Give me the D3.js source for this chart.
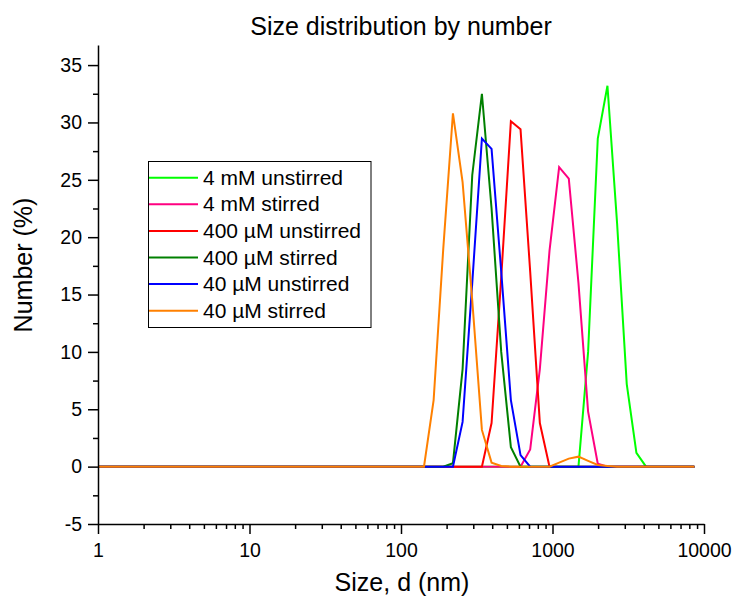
<!DOCTYPE html>
<html>
<head>
<meta charset="utf-8">
<script src="https://cdn.jsdelivr.net/npm/d3@7"></script>
<style>
  body { margin: 0; background: #fff; }
  svg { display: block; font-family: Arial, "Liberation Sans", sans-serif; }
</style>
</head>
<body>
<svg width="734" height="600"></svg>
<script>
// DLS size classes (nm), from just under 1 nm up to the last plotted class
const sizes = [
  0.9649, 1.117, 1.294, 1.499, 1.736, 2.01, 2.328, 2.696, 3.122, 3.615,
  4.187, 4.849, 5.615, 6.503, 7.531, 8.721, 10.1, 11.7, 13.54, 15.69,
  18.17, 21.04, 24.36, 28.21, 32.67, 37.84, 43.82, 50.75, 58.77, 68.06,
  78.82, 91.28, 105.7, 122.4, 141.8, 164.2, 190.1, 220.2, 255, 295.3,
  342, 396.1, 458.7, 531.2, 615.1, 712.4, 825, 955.4, 1106, 1281,
  1484, 1718, 1990, 2305, 2669, 3091, 3580, 4145, 4801, 5560,
  6439, 7456, 8635
];

// Number (%) per size class, one array per sample
const mM4Unstirred = [
  0, 0, 0, 0, 0, 0, 0, 0, 0, 0,
  0, 0, 0, 0, 0, 0, 0, 0, 0, 0,
  0, 0, 0, 0, 0, 0, 0, 0, 0, 0,
  0, 0, 0, 0, 0, 0, 0, 0, 0, 0,
  0, 0, 0, 0, 0, 0, 0, 0, 0, 0,
  0, 10, 28.6, 33.2, 21.2, 7.2, 1.2, 0, 0, 0,
  0, 0, 0
];
const mM4Stirred = [
  0, 0, 0, 0, 0, 0, 0, 0, 0, 0,
  0, 0, 0, 0, 0, 0, 0, 0, 0, 0,
  0, 0, 0, 0, 0, 0, 0, 0, 0, 0,
  0, 0, 0, 0, 0, 0, 0, 0, 0, 0,
  0, 0, 0, 0, 0, 1.5, 8.5, 18.8, 26.1, 25.1,
  16, 4.8, 0.25, 0, 0, 0, 0, 0, 0, 0,
  0, 0, 0
];
const uM400Unstirred = [
  0, 0, 0, 0, 0, 0, 0, 0, 0, 0,
  0, 0, 0, 0, 0, 0, 0, 0, 0, 0,
  0, 0, 0, 0, 0, 0, 0, 0, 0, 0,
  0, 0, 0, 0, 0, 0, 0, 0, 0, 0,
  0, 3.8, 16.5, 30.1, 29.4, 17, 3.8, 0, 0, 0,
  0, 0, 0, 0, 0, 0, 0, 0, 0, 0,
  0, 0, 0
];
const uM400Stirred = [
  0, 0, 0, 0, 0, 0, 0, 0, 0, 0,
  0, 0, 0, 0, 0, 0, 0, 0, 0, 0,
  0, 0, 0, 0, 0, 0, 0, 0, 0, 0,
  0, 0, 0, 0, 0, 0, 0, 0.3, 8.5, 25.4,
  32.5, 22.5, 10, 1.7, 0, 0, 0, 0, 0, 0,
  0, 0, 0, 0, 0, 0, 0, 0, 0, 0,
  0, 0, 0
];
const uM40Unstirred = [
  0, 0, 0, 0, 0, 0, 0, 0, 0, 0,
  0, 0, 0, 0, 0, 0, 0, 0, 0, 0,
  0, 0, 0, 0, 0, 0, 0, 0, 0, 0,
  0, 0, 0, 0, 0, 0, 0, 0, 3.9, 16,
  28.6, 27.7, 17, 5.8, 1.0, 0, 0, 0, 0, 0,
  0, 0, 0, 0, 0, 0, 0, 0, 0, 0,
  0, 0, 0
];
const uM40Stirred = [
  0, 0, 0, 0, 0, 0, 0, 0, 0, 0,
  0, 0, 0, 0, 0, 0, 0, 0, 0, 0,
  0, 0, 0, 0, 0, 0, 0, 0, 0, 0,
  0, 0, 0, 0, 0, 5.8, 19, 30.8, 24.8, 14.5,
  3.2, 0.35, 0.05, 0, 0, 0, 0, 0, 0.35, 0.7,
  0.87, 0.5, 0.15, 0.05, 0, 0, 0, 0, 0, 0,
  0, 0, 0
];

const seriesNames = ['4 mM unstirred', '4 mM stirred', '400 µM unstirred',
  '400 µM stirred', '40 µM unstirred', '40 µM stirred'];
const seriesValues = [mM4Unstirred, mM4Stirred, uM400Unstirred,
  uM400Stirred, uM40Unstirred, uM40Stirred];
const seriesColors = ['#00ff00', '#ff0080', '#ff0000', '#008000', '#0000ff', '#ff8000'];

const xMajorTicks = [1, 10, 100, 1000, 10000];
const yMajorTicks = [-5, 0, 5, 10, 15, 20, 25, 30, 35];

const svg = d3.select('svg');
const plotLeft = 98, plotRight = 704, plotTop = 45, plotBottom = 524;

const x = d3.scaleLog().domain([1, 10000]).range([plotLeft, plotRight]);
const y = d3.scaleLinear().domain([-5, 36.75]).range([plotBottom, plotTop]);

// minor ticks: 2..9 inside each decade, half steps on y
const xMinor = [];
xMajorTicks.slice(0, -1).forEach(d => { for (let k = 2; k < 10; k++) xMinor.push(d * k); });
const yMinor = yMajorTicks.slice(0, -1).map(v => v + 2.5);

// clip so lines stay inside the frame
svg.append('clipPath').attr('id', 'plotClip')
  .append('rect').attr('x', plotLeft).attr('y', plotTop)
  .attr('width', plotRight - plotLeft).attr('height', plotBottom - plotTop);

const line = d3.line()
  .x((d, i) => x(sizes[i]))
  .y(d => y(d));

const plot = svg.append('g').attr('clip-path', 'url(#plotClip)');
seriesValues.forEach((vals, i) => {
  plot.append('path')
    .attr('d', line(vals))
    .attr('fill', 'none')
    .attr('stroke', seriesColors[i])
    .attr('stroke-width', 2)
    .attr('stroke-linejoin', 'miter');
});

// axes
svg.append('g').attr('transform', `translate(0,${plotBottom})`)
  .call(d3.axisBottom(x).tickValues(xMajorTicks).tickFormat(d => String(d))
    .tickSize(10).tickSizeOuter(0).tickPadding(9));
svg.append('g').attr('transform', `translate(0,${plotBottom})`)
  .call(d3.axisBottom(x).tickValues(xMinor).tickFormat('').tickSize(5).tickSizeOuter(0))
  .select('.domain').remove();

svg.append('g').attr('transform', `translate(${plotLeft},0)`)
  .call(d3.axisLeft(y).tickValues(yMajorTicks).tickFormat(d => String(d))
    .tickSize(10).tickSizeOuter(0).tickPadding(6));
svg.append('g').attr('transform', `translate(${plotLeft},0)`)
  .call(d3.axisLeft(y).tickValues(yMinor).tickFormat('').tickSize(5).tickSizeOuter(0))
  .select('.domain').remove();

svg.selectAll('.tick text')
  .attr('font-size', '19.5px')
  .attr('font-family', 'Arial, "Liberation Sans", sans-serif')
  .attr('fill', '#000');
svg.selectAll('.domain, .tick line').attr('stroke', '#000').attr('stroke-width', 1.5);

// titles
svg.append('text')
  .attr('x', 401).attr('y', 35)
  .attr('text-anchor', 'middle')
  .attr('font-size', '25px')
  .text('Size distribution by number');

svg.append('text')
  .attr('x', 402).attr('y', 591)
  .attr('text-anchor', 'middle')
  .attr('font-size', '25px')
  .text('Size, d (nm)');

svg.append('text')
  .attr('transform', 'translate(32,265) rotate(-90)')
  .attr('text-anchor', 'middle')
  .attr('font-size', '25px')
  .text('Number (%)');

// legend
const legend = svg.append('g');
legend.append('rect')
  .attr('x', 148.5).attr('y', 161.5)
  .attr('width', 222.5).attr('height', 166)
  .attr('fill', '#fff').attr('stroke', '#000').attr('stroke-width', 1);

seriesNames.forEach((name, i) => {
  const ry = 177.7 + i * 26.6;
  legend.append('line')
    .attr('x1', 149).attr('x2', 198)
    .attr('y1', ry).attr('y2', ry)
    .attr('stroke', seriesColors[i]).attr('stroke-width', 2);
  legend.append('text')
    .attr('x', 203).attr('y', ry + 7)
    .attr('font-size', '21px')
    .text(name);
});
</script>
</body>
</html>
